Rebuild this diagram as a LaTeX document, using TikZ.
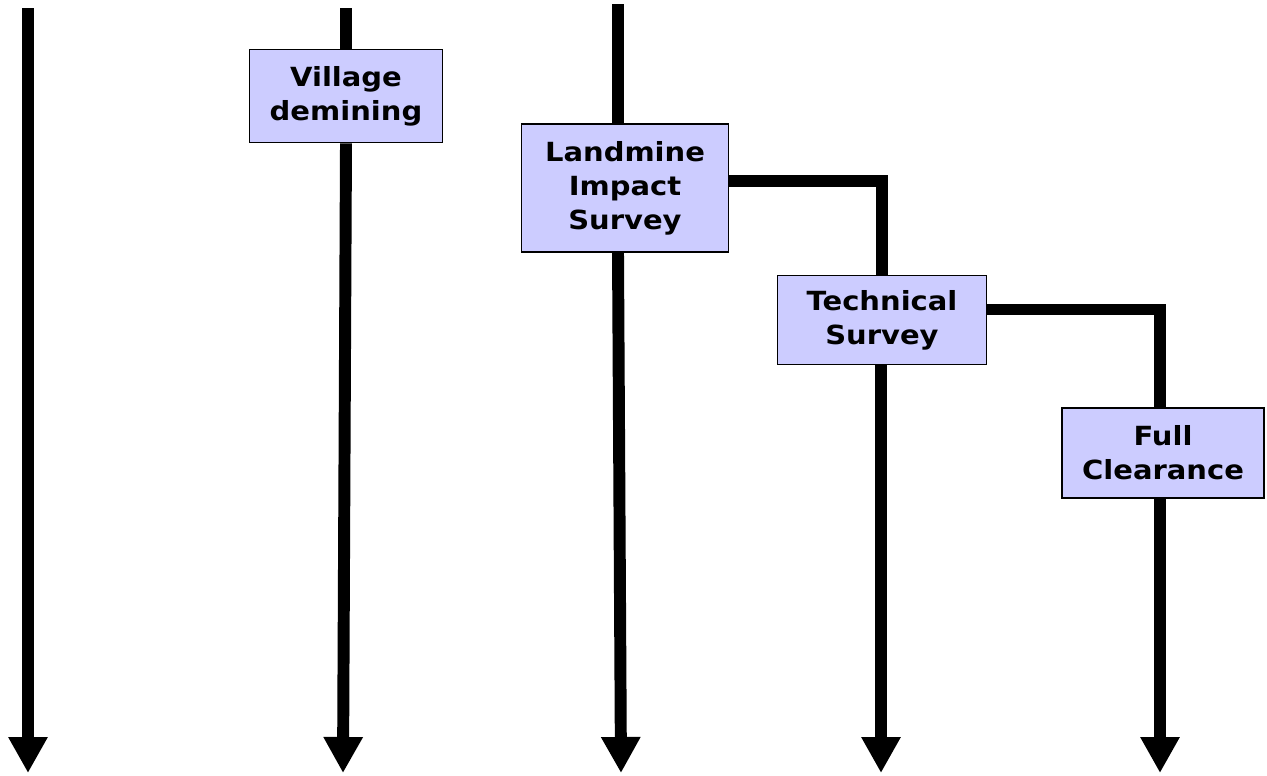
\documentclass[tikz,border=0pt]{standalone}
\usepackage{fontspec}
\setmainfont{DejaVu Sans}[FakeStretch=1.1]
\usetikzlibrary{arrows.meta}

\tikzset{
    stage/.style={draw=black, line width=1pt, fill=stagefill, align=center,
        font=\bfseries\fontsize{15}{19.3}\selectfont, inner sep=0pt},
    track/.style={line width=6.8pt},
    flow/.style={track, -{Triangle[length=0.72cm, width=0.74cm]}},
    link/.style={track, line join=miter}
}
\definecolor{stagefill}{RGB}{204,204,255}

\begin{document}
\begin{tikzpicture}[x=0.02cm, y=-0.02cm]
        \useasboundingbox (0,0) rectangle (1267,775);
        % stages
        \node[stage, minimum width=3.86cm, minimum height=1.86cm] (village) at (346,96) {Village\\demining};
        \node[stage, minimum width=4.14cm, minimum height=2.56cm] (lis) at (625,188) {Landmine\\Impact\\Survey};
        \node[stage, minimum width=4.18cm, minimum height=1.78cm] (ts) at (882,320) {Technical\\Survey};
        \node[stage, minimum width=4.04cm, minimum height=1.80cm] (fc) at (1163,453) {Full\\Clearance};
        % ends of the tracks
        \coordinate (t1) at (28,8);
        \coordinate (b1) at (28,773);
        \coordinate (t2) at (346,8);
        \coordinate (b2) at (343,773);
        \coordinate (t3) at (618,4);
        \coordinate (b3) at (621,773);
        \coordinate (b4) at (881,773);
        \coordinate (b5) at (1160,773);
        % tracks
        \draw[flow] (t1) -- (b1);
        \draw[track] (t2) -- (village.north);
        \draw[flow] (village.south) -- (b2);
        \draw[track] (t3) -- (t3 |- lis.north);
        \draw[flow] (t3 |- lis.south) -- (b3);
        \draw[flow] (ts.south -| b4) -- (b4);
        \draw[flow] (fc.south -| b5) -- (b5);
        % branches
        \draw[link] ([yshift=0.14cm]lis.east) -| (ts.north);
        \draw[link] ([yshift=0.21cm]ts.east) -| (fc.north -| b5);
    \end{tikzpicture}
\end{document}
